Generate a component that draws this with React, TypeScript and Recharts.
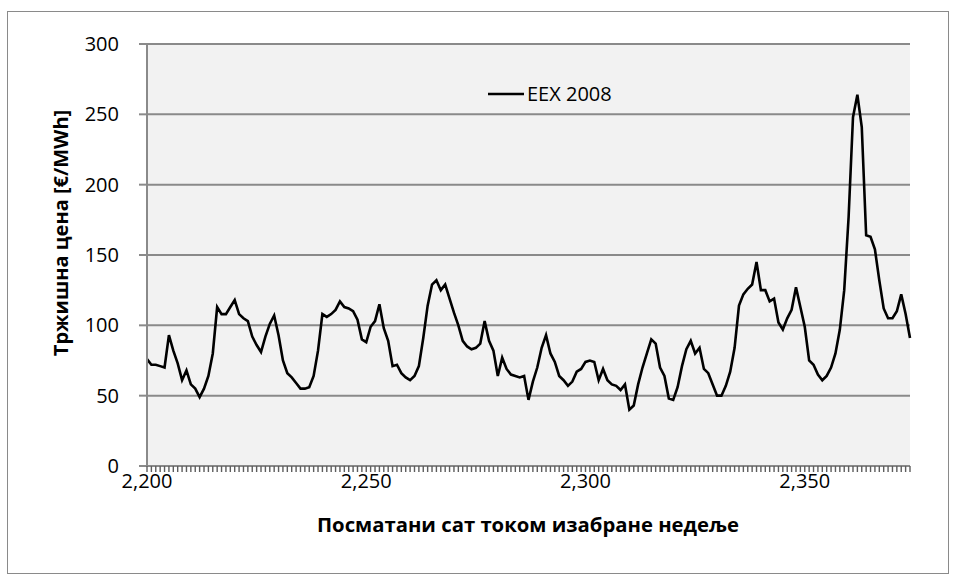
import { LineChart, Line, XAxis, YAxis, CartesianGrid, Legend } from 'recharts'

// hourly EEX market price, hours 2200..2374
const prices = [
  76, 72, 72, 71, 70, 93, 82, 73, 61, 68,
  58, 55, 49, 55, 64, 80, 113, 108, 108, 113,
  118, 108, 105, 103, 92, 86, 81, 92, 101, 107,
  93, 75, 66, 63, 59, 55, 55, 56, 64, 82,
  108, 106, 108, 111, 117, 113, 112, 110, 104, 90,
  88, 99, 103, 115, 98, 89, 71, 72, 66, 63,
  61, 64, 71, 91, 114, 129, 132, 125, 129, 119,
  109, 100, 89, 85, 83, 84, 87, 103, 89, 82,
  64, 77, 69, 65, 64, 63, 64, 47, 60, 70,
  84, 93, 80, 74, 64, 61, 57, 60, 67, 69,
  74, 75, 74, 61, 69, 61, 58, 57, 54, 58,
  40, 43, 58, 70, 80, 90, 87, 70, 64, 48,
  47, 56, 71, 83, 89, 80, 84, 69, 66, 58,
  50, 50, 57, 67, 84, 114, 122, 126, 129, 145,
  125, 125, 117, 119, 102, 97, 105, 111, 127, 113,
  99, 75, 72, 65, 61, 64, 70, 80, 97, 125,
  177, 248, 264, 241, 164, 163, 154, 132, 112, 105,
  105, 110, 122, 108, 91,
]
const firstHour = 2200
const hours = prices.map((_, i) => firstHour + i)
const xLabelTicks = [2200, 2250, 2300, 2350]
const yTicks = [0, 50, 100, 150, 200, 250, 300]

const seriesName = 'EEX 2008'
const yTitle = 'Тржишна цена [€/MWh]'
const xTitle = 'Посматани сат током изабране недеље'

const data = hours.map((h, i) => ({ hour: h, price: prices[i] }))

const FONT = '"Open Sans", "Noto Sans", sans-serif'
const GRID = '#8a8a8a'
const X_TICK_SIZE = 6
const X_TICK_MARGIN = 2

// hour mark under the axis for every category, label only every 50th hour
function XTick(props: any) {
  const { x, y, payload } = props
  const v = Number(payload?.value)
  const top = y - X_TICK_MARGIN - X_TICK_SIZE
  return (
    <g>
      <rect x={x - 0.7} y={top} width={1.4} height={X_TICK_SIZE} fill="#5e5e5e" />
      {xLabelTicks.includes(v) && (
        <text x={x} y={y} dy="0.71em" textAnchor="middle" fontSize={20} fontFamily={FONT} fill="#000">
          {v.toLocaleString('en-US')}
        </text>
      )}
    </g>
  )
}

function LegendBox() {
  return (
    <div style={{ display: 'flex', alignItems: 'center', fontFamily: FONT, fontSize: 20, color: '#000' }}>
      <svg width={36} height={6} style={{ marginRight: 3 }}>
        <line x1={0} y1={3} x2={36} y2={3} stroke="#000" strokeWidth={2.5} />
      </svg>
      <span>{seriesName}</span>
    </div>
  )
}

export default function App() {
  return (
    <div style={{ position: 'absolute', left: 0, top: 0, width: 955, height: 580, background: '#fff' }}>
      <div
        style={{
          position: 'absolute',
          left: 7,
          top: 11,
          width: 940,
          height: 561,
          border: '1px solid #8a8a8a',
          pointerEvents: 'none',
        }}
      />
      <LineChart
        width={955}
        height={580}
        data={data}
        margin={{ top: 44, right: 45, left: 0, bottom: 74 }}
      >
        <CartesianGrid vertical={false} stroke={GRID} strokeWidth={2} fill="#f2f2f2" />
        <XAxis
          dataKey="hour"
          type="category"
          interval={0}
          minTickGap={0}
          height={40}
          tick={XTick}
          tickSize={X_TICK_SIZE}
          tickMargin={X_TICK_MARGIN}
          tickLine={false}
          axisLine={{ stroke: GRID, strokeWidth: 2 }}
        />
        <YAxis
          domain={[0, 300]}
          ticks={yTicks}
          width={147}
          interval={0}
          tickSize={8}
          tickMargin={20}
          tick={{ fontSize: 20, fontFamily: FONT, fill: '#000' }}
          tickLine={{ stroke: GRID, strokeWidth: 2 }}
          axisLine={{ stroke: GRID, strokeWidth: 2 }}
        />
        <Legend
          layout="vertical"
          align="center"
          verticalAlign="middle"
          content={<LegendBox />}
          wrapperStyle={{ left: 488, top: 80, width: 140 }}
        />
        <Line
          type="linear"
          dataKey="price"
          name={seriesName}
          stroke="#000"
          strokeWidth={2.6}
          dot={false}
          activeDot={false}
          isAnimationActive={false}
        />
      </LineChart>
      <div
        style={{
          position: 'absolute',
          left: 61,
          top: 233,
          transform: 'translate(-50%, -50%) rotate(-90deg)',
          whiteSpace: 'nowrap',
          fontFamily: FONT,
          fontWeight: 700,
          fontSize: 20,
          lineHeight: '24px',
        }}
      >
        {yTitle}
      </div>
      <div
        style={{
          position: 'absolute',
          left: 528,
          top: 524,
          transform: 'translate(-50%, -50%)',
          whiteSpace: 'nowrap',
          fontFamily: FONT,
          fontWeight: 700,
          fontSize: 20.3,
          lineHeight: '24px',
        }}
      >
        {xTitle}
      </div>
    </div>
  )
}
